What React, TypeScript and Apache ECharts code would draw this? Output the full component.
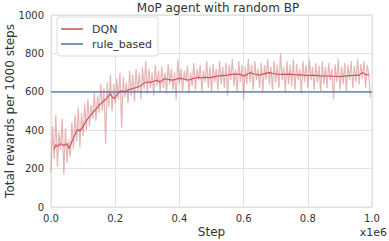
import React, { useEffect, useRef } from "react";
import * as echarts from "echarts";

const title = "MoP agent with random BP";
const rawStep = 0.005;
const rawValues = [
  180, 420, 250, 480, 210, 390, 300, 460, 170, 410, 230, 350, 260, 440, 300, 480, 340, 520, 310, 490,
  370, 540, 400, 560, 420, 530, 460, 600, 450, 580, 490, 640, 500, 620, 330, 650, 520, 690, 500, 640,
  540, 670, 560, 700, 410, 680, 570, 650, 540, 710, 580, 690, 550, 720, 600, 700, 560, 730, 610, 760,
  590, 720, 620, 700, 580, 740, 630, 710, 600, 730, 620, 700, 590, 745, 640, 720, 610, 700, 560, 770,
  640, 720, 600, 710, 650, 735, 590, 700, 630, 750, 610, 720, 660, 740, 600, 710, 650, 760, 620, 730,
  600, 745, 650, 720, 610, 760, 640, 730, 620, 750, 580, 740, 660, 770, 630, 720, 600, 760, 650, 740,
  560, 730, 640, 770, 650, 740, 610, 760, 660, 720, 620, 750, 600, 740, 660, 770, 640, 730, 610, 760,
  650, 740, 620, 800, 660, 730, 600, 760, 640, 740, 630, 770, 610, 745, 660, 720, 590, 760, 650, 740,
  620, 770, 660, 730, 610, 750, 650, 735, 600, 760, 640, 730, 620, 750, 660, 720, 560, 745, 650, 770,
  610, 730, 640, 750, 600, 740, 660, 760, 620, 735, 650, 770, 640, 745, 670, 760, 620, 740, 690, 570
];
const smoothSteps = [
  0.01, 0.015, 0.02, 0.03, 0.04, 0.05, 0.055, 0.06, 0.07, 0.08, 0.085, 0.09, 0.1, 0.11, 0.12, 0.13,
  0.14, 0.15, 0.16, 0.17, 0.18, 0.185, 0.19, 0.195, 0.2, 0.21, 0.22, 0.23, 0.24, 0.25, 0.26, 0.27,
  0.28, 0.29, 0.3, 0.31, 0.32, 0.33, 0.34, 0.35, 0.36, 0.37, 0.38, 0.39, 0.4, 0.41, 0.42, 0.43,
  0.44, 0.45, 0.46, 0.47, 0.48, 0.49, 0.5, 0.51, 0.52, 0.53, 0.54, 0.55, 0.56, 0.57, 0.58, 0.59,
  0.6, 0.61, 0.62, 0.63, 0.64, 0.65, 0.66, 0.67, 0.68, 0.69, 0.7, 0.72, 0.74, 0.76, 0.78, 0.8,
  0.82, 0.84, 0.86, 0.88, 0.9, 0.92, 0.94, 0.96, 0.97, 0.98, 0.99
];
const smoothValues = [
  300, 325, 315, 330, 320, 330, 305, 320, 360, 395, 405, 395, 420, 450, 470, 490,
  510, 530, 545, 560, 580, 590, 575, 565, 570, 595, 605, 600, 610, 615, 620, 625,
  632, 645, 652, 648, 655, 660, 650, 665, 668, 662, 661, 665, 670, 668, 664, 661,
  668, 672, 675, 672, 676, 674, 675, 679, 682, 684, 685, 687, 690, 692, 693, 690,
  682, 690, 700, 694, 690, 687, 692, 696, 700, 697, 693, 690, 692, 689, 688, 685,
  686, 683, 682, 681, 680, 683, 685, 687, 700, 690, 687
];
const ruleSteps = [0, 1];
const ruleValues = [600, 600];

export default function App() {
  const ref = useRef<HTMLDivElement>(null);
  useEffect(() => {
    if (!ref.current) return;
    const chart = echarts.init(ref.current, undefined, { renderer: "svg" });
    const font = "DejaVu Sans";
    chart.setOption({
      animation: false,
      backgroundColor: "#ffffff",
      textStyle: { fontFamily: font },
      title: {
        text: title,
        left: 213,
        textAlign: "center",
        top: -3,
        textStyle: { fontFamily: font, fontSize: 12, fontWeight: "normal", color: "#333" },
      },
      grid: {
        left: 51,
        right: 17,
        top: 15,
        bottom: 34,
        containLabel: false,
        outerBoundsMode: "none",
        show: true,
        borderColor: "#d8d8d8",
        borderWidth: 1,
      },
      legend: {
        data: ["DQN", "rule_based"],
        orient: "vertical",
        left: 57,
        top: 17,
        icon: "rect",
        itemWidth: 22,
        itemHeight: 1.5,
        itemGap: 1,
        padding: [5, 6, 5, 4],
        borderColor: "#dcdcdc",
        borderWidth: 1,
        borderRadius: 3,
        backgroundColor: "#ffffff",
        textStyle: { fontFamily: font, fontSize: 11, color: "#333", lineHeight: 14, padding: [0, 0, 0, 4] },
      },
      xAxis: {
        type: "value",
        min: 0,
        max: 1,
        interval: 0.2,
        name: "Step",
        nameLocation: "middle",
        nameGap: 19,
        nameMoveOverlap: false,
        nameTextStyle: { fontFamily: font, fontSize: 12, color: "#333" },
        axisLine: { show: false },
        axisTick: { show: false },
        axisLabel: {
          fontFamily: font,
          fontSize: 10,
          color: "#333",
          margin: 6,
          formatter: (v: number) => v.toFixed(1),
        },
        splitLine: { show: true, lineStyle: { color: "#e2e2e2", width: 1 } },
      },
      yAxis: {
        type: "value",
        min: 0,
        max: 1000,
        interval: 200,
        name: "Total rewards per 1000 steps",
        nameLocation: "middle",
        nameGap: 35,
        nameMoveOverlap: false,
        nameTextStyle: { fontFamily: font, fontSize: 12, color: "#333" },
        axisLine: { show: false },
        axisTick: { show: false },
        axisLabel: { fontFamily: font, fontSize: 10, color: "#333", margin: 7, formatter: (v: number) => String(v) },
        splitLine: { show: true, lineStyle: { color: "#e2e2e2", width: 1 } },
      },
      graphic: [
        {
          type: "text",
          right: 2,
          bottom: 3,
          style: { text: "x1e6", font: `11px "${font}"`, fill: "#333" },
        },
      ],
      series: [
        {
          name: "DQN raw",
          type: "line",
          data: rawValues.map((v, i) => [i * rawStep, v]),
          showSymbol: false,
          lineStyle: { color: "rgba(196,78,82,0.42)", width: 1.2 },
          itemStyle: { color: "rgba(196,78,82,0.42)" },
          z: 1,
        },
        {
          name: "DQN",
          type: "line",
          data: smoothSteps.map((s, i) => [s, smoothValues[i]]),
          showSymbol: false,
          lineStyle: { color: "#C44E52", width: 1.1 },
          itemStyle: { color: "#C44E52" },
          z: 2,
        },
        {
          name: "rule_based",
          type: "line",
          data: ruleSteps.map((s, i) => [s, ruleValues[i]]),
          showSymbol: false,
          lineStyle: { color: "#4C72B0", width: 1.2 },
          itemStyle: { color: "#4C72B0" },
          z: 3,
        },
      ],
    });
    return () => chart.dispose();
  }, []);
  return <div ref={ref} style={{ width: 389, height: 241, position: "absolute", left: 0, top: 0 }} />;
}
